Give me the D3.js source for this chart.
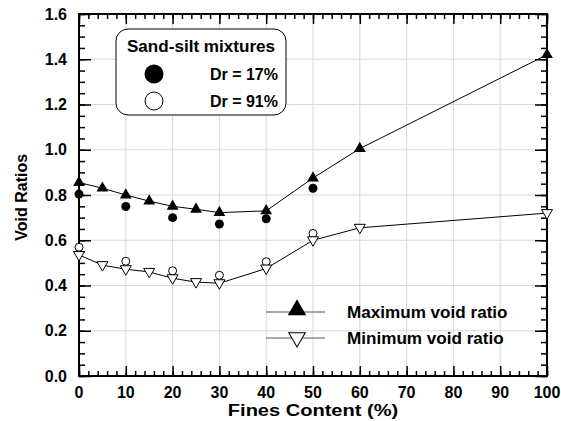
<!DOCTYPE html>
<html>
<head>
<meta charset="utf-8">
<script src="https://cdn.jsdelivr.net/npm/d3@7"></script>
<style>
  body { margin: 0; background: #fff; }
  svg text { font-family: "Liberation Sans", Arial, sans-serif; font-weight: bold; }
</style>
</head>
<body>
<div id="chart"></div>
<script>
// fines content (%) for the limit void ratios
const fcLimits = [0, 5, 10, 15, 20, 25, 30, 40, 50, 60, 100];
const eMax = [0.855, 0.83, 0.80, 0.773, 0.75, 0.737, 0.722, 0.73, 0.875, 1.005, 1.42];
const eMin = [0.535, 0.49, 0.472, 0.46, 0.432, 0.415, 0.41, 0.475, 0.60, 0.655, 0.72];

// sand-silt mixtures tested
const fcTests = [0, 10, 20, 30, 40, 50];
const eDr17 = [0.804, 0.749, 0.70, 0.672, 0.695, 0.83];
const eDr91 = [0.569, 0.507, 0.465, 0.445, 0.505, 0.63];

const xTicks = [0, 10, 20, 30, 40, 50, 60, 70, 80, 90, 100];
const yTicks = [0, 0.2, 0.4, 0.6, 0.8, 1.0, 1.2, 1.4, 1.6];

const W = 561, H = 421;
const margin = { top: 14, right: 14, bottom: 45, left: 79 };
const width = W - margin.left - margin.right;
const height = H - margin.top - margin.bottom;

const svg = d3.select('#chart').append('svg')
    .attr('width', W).attr('height', H);
const g = svg.append('g')
    .attr('transform', `translate(${margin.left},${margin.top})`);

const x = d3.scaleLinear().domain([0, 100]).range([0, width]);
const y = d3.scaleLinear().domain([0, 1.6]).range([height, 0]);

// the source font is a little wider than Liberation Sans
function wideText(sel, px, py, str, size, sx, anchor) {
    return sel.append('text')
        .attr('transform', `translate(${px},${py}) scale(${sx},1)`)
        .attr('text-anchor', anchor || 'start')
        .attr('font-size', size)
        .text(str);
}

// grid
g.append('g').selectAll('line').data(xTicks.slice(1, -1)).join('line')
    .attr('x1', d => x(d)).attr('x2', d => x(d))
    .attr('y1', 0).attr('y2', height)
    .attr('stroke', '#d8d8d8').attr('stroke-width', 1);
g.append('g').selectAll('line').data(yTicks.slice(1, -1)).join('line')
    .attr('y1', d => y(d)).attr('y2', d => y(d))
    .attr('x1', 0).attr('x2', width)
    .attr('stroke', '#d8d8d8').attr('stroke-width', 1);

// axes with inward ticks
const xMinor = d3.range(0, 101, 2);
const yMinor = d3.range(0, 1.6001, 0.05);

function inward(axis, vals, size) {
    return axis.tickValues(vals).tickSize(size).tickSizeOuter(0).tickFormat('');
}
g.append('g').attr('transform', `translate(0,${height})`).call(inward(d3.axisTop(x), xMinor, 5));
g.append('g').attr('transform', `translate(0,${height})`).call(inward(d3.axisTop(x), xTicks, 10));
g.append('g').call(inward(d3.axisBottom(x), xMinor, 5));
g.append('g').call(inward(d3.axisBottom(x), xTicks, 10));
g.append('g').call(inward(d3.axisRight(y), yMinor, 6));
g.append('g').call(inward(d3.axisRight(y), yTicks, 12));
g.append('g').attr('transform', `translate(${width},0)`).call(inward(d3.axisLeft(y), yMinor, 6));
g.append('g').attr('transform', `translate(${width},0)`).call(inward(d3.axisLeft(y), yTicks, 12));
g.selectAll('.domain').remove();
g.selectAll('.tick line').attr('stroke', '#000').attr('stroke-width', 1.5);

// tick labels
g.append('g').selectAll('text').data(xTicks).join('text')
    .attr('x', d => x(d)).attr('y', height + 22)
    .attr('text-anchor', 'middle').attr('font-size', 16)
    .text(d => d);
g.append('g').selectAll('text').data(yTicks).join('text')
    .attr('x', -12).attr('y', d => y(d) + 5.5)
    .attr('text-anchor', 'end').attr('font-size', 16)
    .text(d => d.toFixed(1));

// frame
g.append('rect').attr('width', width).attr('height', height)
    .attr('fill', 'none').attr('stroke', '#000').attr('stroke-width', 2);

// axis titles
wideText(svg, margin.left + width / 2, H - 5, 'Fines Content (%)', 17, 1.18, 'middle');
svg.append('text')
    .attr('transform', `translate(27,${margin.top + y(0.79)}) rotate(-90)`)
    .attr('text-anchor', 'middle').attr('font-size', 16)
    .text('Void Ratios');

// markers
const triUp = d3.symbol().type(d3.symbolTriangle).size(60);
const triDown = 'M-5.5,-3.5L5.5,-3.5L0,6Z';

const line = d3.line().x(d => x(d[0])).y(d => y(d[1]));
const maxPts = d3.zip(fcLimits, eMax);
const minPts = d3.zip(fcLimits, eMin);

g.append('path').datum(maxPts).attr('d', line)
    .attr('fill', 'none').attr('stroke', '#000').attr('stroke-width', 1);
g.append('path').datum(minPts).attr('d', line)
    .attr('fill', 'none').attr('stroke', '#000').attr('stroke-width', 1);

g.append('g').selectAll('circle').data(d3.zip(fcTests, eDr17)).join('circle')
    .attr('cx', d => x(d[0])).attr('cy', d => y(d[1])).attr('r', 4.5)
    .attr('fill', '#000');
g.append('g').selectAll('circle').data(d3.zip(fcTests, eDr91)).join('circle')
    .attr('cx', d => x(d[0])).attr('cy', d => y(d[1])).attr('r', 4)
    .attr('fill', '#fff').attr('stroke', '#000').attr('stroke-width', 1);

g.append('g').selectAll('path').data(maxPts).join('path')
    .attr('transform', d => `translate(${x(d[0])},${y(d[1])})`)
    .attr('d', triUp).attr('fill', '#000');
g.append('g').selectAll('path').data(minPts).join('path')
    .attr('transform', d => `translate(${x(d[0])},${y(d[1])})`)
    .attr('d', triDown).attr('fill', '#fff').attr('stroke', '#000').attr('stroke-width', 1);

// legend 1
const lg1 = svg.append('g');
lg1.append('rect').attr('x', 116).attr('y', 29).attr('width', 170).attr('height', 86)
    .attr('rx', 12).attr('fill', '#fff').attr('stroke', '#000').attr('stroke-width', 1);
wideText(lg1, 201, 52, 'Sand-silt mixtures', 16, 1.07, 'middle');
lg1.append('circle').attr('cx', 154).attr('cy', 74).attr('r', 9.5).attr('fill', '#000');
lg1.append('circle').attr('cx', 154).attr('cy', 101).attr('r', 9)
    .attr('fill', '#fff').attr('stroke', '#000').attr('stroke-width', 1);
wideText(lg1, 278, 80, 'Dr = 17%', 16, 1, 'end');
wideText(lg1, 278, 107, 'Dr = 91%', 16, 1, 'end');

// legend 2
const lg2 = svg.append('g');
lg2.append('line').attr('x1', 266).attr('x2', 325).attr('y1', 312).attr('y2', 312)
    .attr('stroke', '#888').attr('stroke-width', 1.5);
lg2.append('path').attr('transform', 'translate(297,310)')
    .attr('d', d3.symbol().type(d3.symbolTriangle).size(150)).attr('fill', '#000');
lg2.append('line').attr('x1', 266).attr('x2', 325).attr('y1', 338).attr('y2', 338)
    .attr('stroke', '#555').attr('stroke-width', 1);
lg2.append('path').attr('transform', 'translate(297,338) scale(1.5)')
    .attr('d', triDown).attr('fill', '#fff').attr('stroke', '#000').attr('stroke-width', 0.7);
wideText(lg2, 347, 318, 'Maximum void ratio', 16, 1.07);
wideText(lg2, 347, 344, 'Minimum void ratio', 16, 1.07);
</script>
</body>
</html>
